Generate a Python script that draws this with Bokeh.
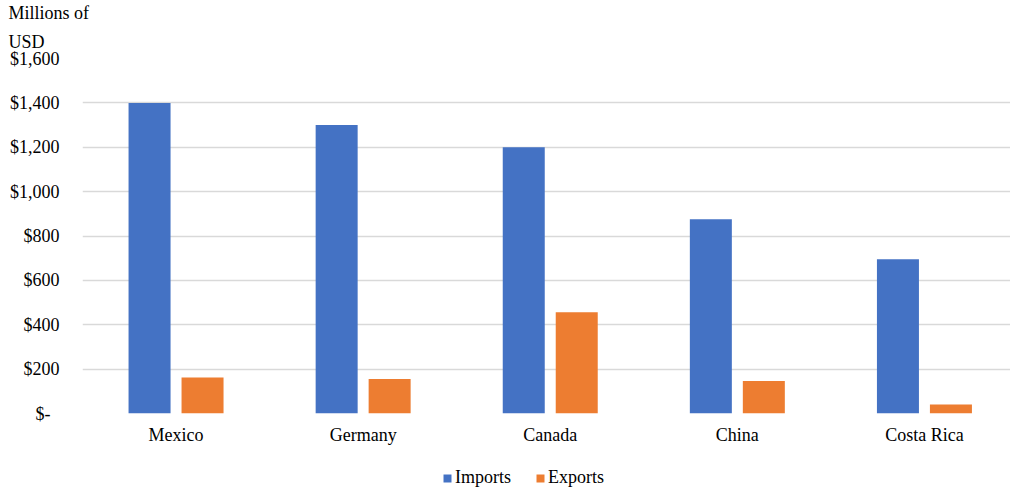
from bokeh.plotting import figure
from bokeh.layouts import column
from bokeh.models import ColumnDataSource, Range1d, FixedTicker, Legend, LegendItem, Title
from bokeh.transform import dodge
from bokeh.embed import file_html
from bokeh.resources import INLINE

categories = ["Mexico", "Germany", "Canada", "China", "Costa Rica"]
imports = [1400, 1300, 1200, 875, 695]
exports = [162, 155, 456, 146, 41]
y_ticks = [0, 200, 400, 600, 800, 1000, 1200, 1400, 1600]
y_tick_labels = ["$-\u00a0\u00a0", "$200", "$400", "$600", "$800", "$1,000", "$1,200", "$1,400", "$1,600"]
series_names = ["Imports", "Exports"]
unit_lines = ["Millions of", "USD"]

FONT = "Liberation Serif"
BLUE = "#4472C4"
ORANGE = "#ED7D31"

src = ColumnDataSource(data=dict(x=list(range(len(categories))), imports=imports, exports=exports))

p = figure(width=1010, height=455, output_backend="svg", toolbar_location=None,
           x_range=Range1d(-0.5, 4.46), y_range=Range1d(0, 1600),
           min_border_left=82, min_border_right=0, min_border_top=58, min_border_bottom=42)
p.outline_line_color = None

r1 = p.vbar(x=dodge("x", -0.1416, range=p.x_range), top="imports", width=0.2245, source=src,
            fill_color=BLUE, line_color=None)
r2 = p.vbar(x=dodge("x", 0.1416, range=p.x_range), top="exports", width=0.2245, source=src,
            fill_color=ORANGE, line_color=None)

p.xgrid.grid_line_color = None
p.ygrid.grid_line_color = "#d9d9d9"
p.ygrid.grid_line_width = 1.5

p.yaxis.ticker = FixedTicker(ticks=y_ticks)
p.yaxis.major_label_overrides = {t: l for t, l in zip(y_ticks, y_tick_labels)}
p.xaxis.ticker = FixedTicker(ticks=list(range(len(categories))))
p.xaxis.major_label_overrides = {i: c for i, c in enumerate(categories)}

for ax in (p.xaxis[0], p.yaxis[0]):
    ax.axis_line_color = None
    ax.major_tick_line_color = None
    ax.minor_tick_line_color = None
    ax.major_tick_out = 0
    ax.major_tick_in = 0
    ax.major_label_text_font = FONT
    ax.major_label_text_font_size = "18px"
    ax.major_label_text_color = "#000000"
p.yaxis.major_label_standoff = 23
p.xaxis.major_label_standoff = 11

# unit caption: titles stacked outward from the frame (bottom line first)
for txt, so in [(unit_lines[1], 14), (unit_lines[0], 0)]:
    p.add_layout(Title(text=txt, align="left", offset=-74, standoff=so,
                       text_font=FONT, text_font_size="18px", text_font_style="normal",
                       text_color="#000000"), "above")

# legend strip below the chart (its renderers are hidden; only the legend shows)
lg = figure(width=1010, height=33, output_backend="svg", toolbar_location=None,
            x_axis_type=None, y_axis_type=None, x_range=Range1d(0, 1), y_range=Range1d(0, 1),
            min_border=0, outline_line_color=None)
lg.grid.visible = False
l1 = lg.vbar(x="x", top="imports", width=0.1, source=src, fill_color=BLUE, line_color=None, visible=False)
l2 = lg.vbar(x="x", top="exports", width=0.1, source=src, fill_color=ORANGE, line_color=None, visible=False)
legend = Legend(items=[LegendItem(label=series_names[0], renderers=[l1]),
                       LegendItem(label=series_names[1], renderers=[l2])],
                orientation="horizontal", location=(360, 0),
                glyph_width=10, glyph_height=10, label_standoff=3, spacing=24,
                padding=0, margin=0, border_line_color=None, background_fill_alpha=0,
                inactive_fill_alpha=0,
                label_text_font=FONT, label_text_font_size="18px", label_text_color="#000000",
                label_height=20)
lg.add_layout(legend)

layout = column(p, lg, spacing=0)
open("out.html", "w").write(file_html(layout, INLINE))
